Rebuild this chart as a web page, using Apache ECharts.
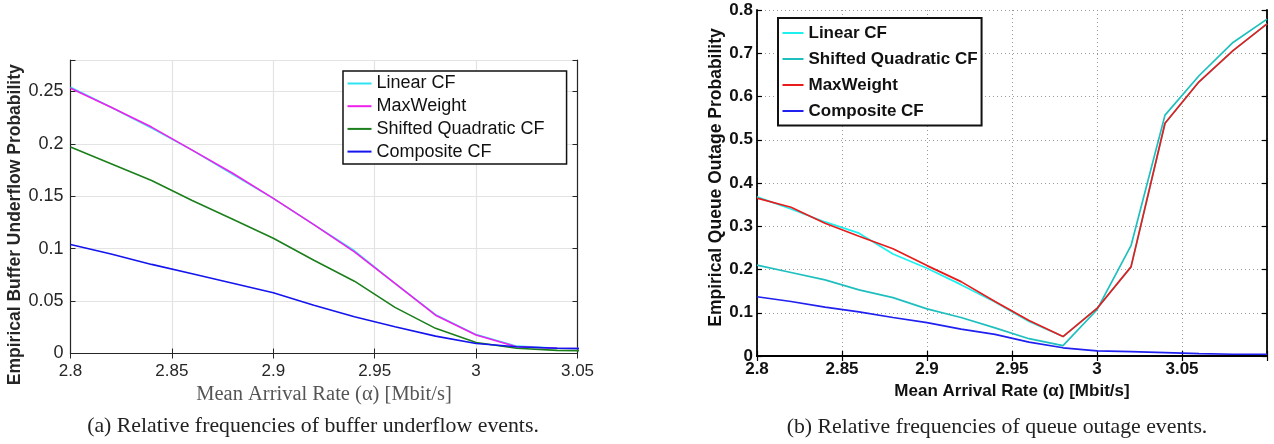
<!DOCTYPE html>
<html>
<head>
<meta charset="utf-8">
<script src="https://cdn.jsdelivr.net/npm/echarts@6/dist/echarts.min.js"></script>
<style>
html, body { margin: 0; padding: 0; background: #fff; }
#chart { width: 1274px; height: 444px; }
</style>
</head>
<body>
<div id="chart"></div>
<script>
// (a) buffer underflow
const alphaA = [2.8, 2.82, 2.84, 2.86, 2.88, 2.9, 2.92, 2.94, 2.96, 2.98, 3.0, 3.02, 3.04, 3.06];
const underLinear    = [0.254, 0.235, 0.215, 0.194, 0.171, 0.148, 0.123, 0.098, 0.067, 0.037, 0.018, 0.007, 0.005, 0.0045];
const underMaxWeight = [0.253, 0.235, 0.216, 0.194, 0.172, 0.148, 0.123, 0.097, 0.067, 0.0365, 0.0176, 0.0065, 0.005, 0.0045];
const underShifted   = [0.197, 0.181, 0.165, 0.146, 0.128, 0.110, 0.089, 0.069, 0.044, 0.024, 0.0105, 0.005, 0.003, 0.0025];
const underComposite = [0.104, 0.095, 0.085, 0.076, 0.067, 0.058, 0.046, 0.035, 0.0255, 0.0166, 0.0095, 0.0065, 0.005, 0.0045];

// (b) queue outage
const alphaB = [2.8, 2.82, 2.84, 2.86, 2.88, 2.9, 2.92, 2.94, 2.96, 2.98, 3.0, 3.02, 3.04, 3.06, 3.08, 3.1];
const outLinear    = [0.368, 0.340, 0.310, 0.284, 0.236, 0.203, 0.165, 0.125, 0.080, 0.045, 0.110, 0.206, 0.538, 0.634, 0.706, 0.768];
const outShifted   = [0.210, 0.193, 0.176, 0.153, 0.135, 0.109, 0.089, 0.065, 0.040, 0.024, 0.107, 0.255, 0.557, 0.648, 0.725, 0.779];
const outMaxWeight = [0.365, 0.344, 0.307, 0.277, 0.248, 0.209, 0.172, 0.126, 0.082, 0.045, 0.110, 0.206, 0.538, 0.634, 0.706, 0.768];
const outComposite = [0.137, 0.126, 0.113, 0.102, 0.089, 0.077, 0.062, 0.050, 0.032, 0.019, 0.012, 0.010, 0.0077, 0.0054, 0.004, 0.004];

const SANS = "'Liberation Sans', Arial, sans-serif";
const SERIF = "'Liberation Serif', 'Times New Roman', serif";

const pairs = (xs, ys) => ys.map((y, i) => [xs[i], y]);
const onStep = (v, step) => Math.abs(v / step - Math.round(v / step)) < 1e-6;
const fmt = v => String(+v.toFixed(2));

const chart = echarts.init(document.getElementById('chart'), null, { renderer: 'canvas' });

// shared look of each panel
const boxA = { show: true, lineStyle: { color: '#262626', width: 1.2 } };
const boxB = { show: true, lineStyle: { color: '#000', width: 1.8 } };

function line(name, data, color, xi, yi, w) {
    return {
        name: name, type: 'line', data: data,
        xAxisIndex: xi, yAxisIndex: yi,
        showSymbol: false, symbol: 'none',
        color: color,
        lineStyle: { color: color, width: w },
        emphasis: { disabled: true },
        animation: false
    };
}

const option = {
    animation: false,
    grid: [
        { left: 70.5, top: 60, width: 507, height: 293.5 },
        { left: 757, top: 10, width: 510, height: 346 }
    ],
    xAxis: [
        {
            gridIndex: 0, type: 'value', min: 2.8, max: 3.05, interval: 0.05,
            axisLine: boxA,
            axisTick: { inside: true, length: 5, lineStyle: { color: '#262626' } },
            axisLabel: { color: '#262626', fontFamily: SANS, fontSize: 17, margin: 9, formatter: fmt },
            splitLine: { show: true, lineStyle: { color: '#e3e3e3', width: 1.2 } },
            name: 'Mean Arrival Rate (α) [Mbit/s]', nameLocation: 'middle', nameGap: 28,
            nameTextStyle: { color: '#555', fontFamily: SERIF, fontSize: 20.5 }
        },
        {
            gridIndex: 0, type: 'value', position: 'top', min: 2.8, max: 3.05, interval: 0.05,
            axisLine: boxA,
            axisTick: { inside: true, length: 5, lineStyle: { color: '#262626' } },
            axisLabel: { show: false }, splitLine: { show: false }
        },
        {
            gridIndex: 1, type: 'value', min: 2.8, max: 3.1, interval: 0.05,
            axisLine: boxB,
            axisTick: { inside: true, length: 5, lineStyle: { color: '#000', width: 1.2 } },
            axisLabel: {
                color: '#111', fontFamily: SANS, fontWeight: 'bold', fontSize: 17, margin: 5,
                formatter: v => (v > 3.075 ? '' : fmt(v))
            },
            splitLine: { show: true, lineStyle: { color: '#9a9a9a', type: [1, 3], width: 1 } },
            name: 'Mean Arrival Rate (α) [Mbit/s]', nameLocation: 'middle', nameGap: 21,
            nameTextStyle: { color: '#111', fontFamily: SANS, fontWeight: 'bold', fontSize: 17 }
        },
        {
            gridIndex: 1, type: 'value', position: 'top', min: 2.8, max: 3.1, interval: 0.05,
            axisLine: boxB,
            axisTick: { inside: true, length: 5, lineStyle: { color: '#000', width: 1.2 } },
            axisLabel: { show: false }, splitLine: { show: false }
        }
    ],
    yAxis: [
        {
            gridIndex: 0, type: 'value', min: 0, max: 0.28, interval: 0.05,
            axisLine: boxA,
            axisTick: { inside: true, length: 5, lineStyle: { color: '#262626' } },
            axisLabel: {
                color: '#262626', fontFamily: SANS, fontSize: 18, margin: 7,
                formatter: v => (onStep(v, 0.05) ? fmt(v) : '')
            },
            splitLine: { show: true, lineStyle: { color: '#e3e3e3', width: 1.2 } },
            name: 'Empirical Buffer Underflow Probability', nameLocation: 'middle', nameGap: 45,
            nameTextStyle: {
                color: '#262626', fontFamily: SANS, fontWeight: 'bold', fontSize: 17.5,
                padding: [0, 36, 0, 0]
            }
        },
        {
            gridIndex: 0, type: 'value', position: 'right', min: 0, max: 0.28, interval: 0.05,
            axisLine: boxA,
            axisTick: { inside: true, length: 5, lineStyle: { color: '#262626' } },
            axisLabel: { show: false }, splitLine: { show: false }
        },
        {
            gridIndex: 1, type: 'value', min: 0, max: 0.8, interval: 0.1,
            axisLine: boxB,
            axisTick: { inside: true, length: 5, lineStyle: { color: '#000', width: 1.2 } },
            axisLabel: { color: '#111', fontFamily: SANS, fontWeight: 'bold', fontSize: 17, margin: 4, formatter: fmt },
            splitLine: { show: true, lineStyle: { color: '#9a9a9a', type: [1, 3], width: 1 } },
            name: 'Empirical Queue Outage Probability', nameLocation: 'middle', nameGap: 31,
            nameTextStyle: {
                color: '#111', fontFamily: SANS, fontWeight: 'bold', fontSize: 17.5,
                padding: [0, 0, 0, 11]
            }
        },
        {
            gridIndex: 1, type: 'value', position: 'right', min: 0, max: 0.8, interval: 0.1,
            axisLine: boxB,
            axisTick: { inside: true, length: 5, lineStyle: { color: '#000', width: 1.2 } },
            axisLabel: { show: false }, splitLine: { show: false }
        }
    ],
    legend: [
        {
            orient: 'vertical', left: 343, top: 71,
            backgroundColor: '#fff', borderColor: '#111', borderWidth: 1.5,
            padding: [3.5, 22, 3.5, 4.5], itemGap: 4.7,
            icon: 'rect', itemWidth: 24, itemHeight: 2,
            textStyle: { color: '#111', fontFamily: SANS, fontSize: 18, lineHeight: 18 },
            selectedMode: false,
            data: [
                { name: 'Linear CF', itemStyle: { color: '#2fe4f2' } },
                { name: 'MaxWeight', itemStyle: { color: '#ee22ee' } },
                { name: 'Shifted Quadratic CF', itemStyle: { color: '#1b7f1b' } },
                { name: 'Composite CF', itemStyle: { color: '#1414ee' } }
            ]
        },
        {
            orient: 'vertical', left: 778, top: 18,
            backgroundColor: '#fff', borderColor: '#111', borderWidth: 2,
            padding: [6, 4, 5.5, 4.5], itemGap: 8,
            icon: 'rect', itemWidth: 21, itemHeight: 2,
            textStyle: { color: '#111', fontFamily: SANS, fontWeight: 'bold', fontSize: 17, lineHeight: 18 },
            selectedMode: false,
            data: [
                { name: 'Linear CF', itemStyle: { color: '#1ef0f0' } },
                { name: 'Shifted Quadratic CF', itemStyle: { color: '#1fbfbf' } },
                { name: 'MaxWeight', itemStyle: { color: '#e81c1c' } },
                { name: 'Composite CF', itemStyle: { color: '#2020f0' } }
            ]
        }
    ],
    graphic: [
        {
            type: 'text', x: 313, y: 426,
            style: {
                text: '(a) Relative frequencies of buffer underflow events.',
                font: '21.8px ' + SERIF, fill: '#222', textAlign: 'center', textVerticalAlign: 'middle'
            }
        },
        {
            type: 'text', x: 997, y: 427,
            style: {
                text: '(b) Relative frequencies of queue outage events.',
                font: '21.8px ' + SERIF, fill: '#222', textAlign: 'center', textVerticalAlign: 'middle'
            }
        }
    ],
    series: [
        line('Linear CF', pairs(alphaA, underLinear), '#2fe4f2', 0, 0, 1.6),
        line('MaxWeight', pairs(alphaA, underMaxWeight), '#ee22ee', 0, 0, 1.6),
        line('Shifted Quadratic CF', pairs(alphaA, underShifted), '#1b7f1b', 0, 0, 1.6),
        line('Composite CF', pairs(alphaA, underComposite), '#1414ee', 0, 0, 1.6),

        line('Linear CF', pairs(alphaB, outLinear), '#1ef0f0', 2, 2, 1.7),
        line('Shifted Quadratic CF', pairs(alphaB, outShifted), '#1fbfbf', 2, 2, 1.7),
        line('MaxWeight', pairs(alphaB, outMaxWeight), '#e81c1c', 2, 2, 1.7),
        line('Composite CF', pairs(alphaB, outComposite), '#2020f0', 2, 2, 1.7)
    ]
};

chart.setOption(option);
</script>
</body>
</html>
